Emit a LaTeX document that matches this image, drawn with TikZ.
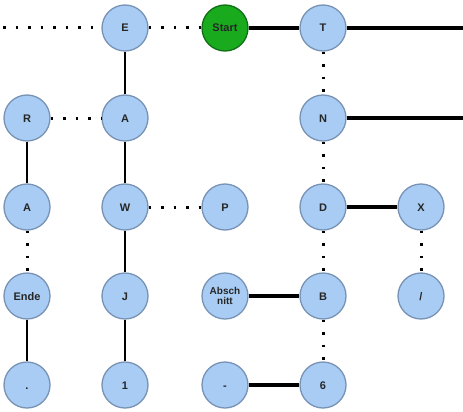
\documentclass[tikz,border=0pt]{standalone}
\usepackage{fontspec}
\setmainfont{Liberation Sans}
\definecolor{knotfill}{RGB}{168,204,244}
\definecolor{knotrim}{RGB}{120,146,180}
\definecolor{startfill}{RGB}{26,170,30}
\definecolor{startrim}{RGB}{18,110,22}
\begin{document}
\begin{tikzpicture}[x=1pt,y=-1pt,
    knot/.style={circle,draw=knotrim,fill=knotfill,line width=1.3pt,
      minimum size=46pt,inner sep=0pt,text height=8pt,text depth=0pt,
      font=\bfseries\fontsize{11}{11}\selectfont,text=black!85},
    start/.style={knot,fill=startfill,draw=startrim},
    dit/.style={line width=3pt,dash pattern=on 2.5pt off 10pt},
    dah/.style={line width=2pt},
    wide/.style={line width=3.5pt}]
  \useasboundingbox (0,0) rectangle (463,412);
  \coordinate (lend) at (3,28);
  \coordinate (rend1) at (463,28);
  \coordinate (rend2) at (463,118);
  \node[knot] (E) at (125,28) {E};
  \node[start] (Start) at (225,28) {Start};
  \node[knot] (T) at (323,28) {T};
  \node[knot] (R) at (27,118) {R};
  \node[knot] (A1) at (125,118) {A};
  \node[knot] (N) at (323,118) {N};
  \node[knot] (A2) at (27,207) {A};
  \node[knot] (W) at (125,207) {W};
  \node[knot] (P) at (225,207) {P};
  \node[knot] (D) at (323,207) {D};
  \node[knot] (X) at (421,207) {X};
  \node[knot] (Ende) at (27,296) {Ende};
  \node[knot] (J) at (125,296) {J};
  \node[knot,align=center,text height=,text depth=,
    font=\bfseries\fontsize{10}{10}\selectfont] (Abschnitt) at (225,296) {Absch\\nitt};
  \node[knot] (B) at (323,296) {B};
  \node[knot] (slash) at (421,296) {/};
  \node[knot] (dot) at (27,385) {.};
  \node[knot] (one) at (125,385) {1};
  \node[knot] (minus) at (225,385) {-};
  \node[knot] (six) at (323,385) {6};
  \begin{scope}[-]
    \draw[dit] (lend) to (E);
    \draw[dit] (E) to (Start);
    \draw[wide] (Start) to (T);
    \draw[wide] (T) to (rend1);
    \draw[dit] (T) to (N);
    \draw[wide] (N) to (rend2);
    \draw[dah] (E) to (A1);
    \draw[dit] (R) to (A1);
    \draw[dah] (R) to (A2);
    \draw[dit] (A2) to (Ende);
    \draw[dah] (Ende) to (dot);
    \draw[dah] (A1) to (W);
    \draw[dit] (W) to (P);
    \draw[dah] (W) to (J);
    \draw[dah] (J) to (one);
    \draw[dit] (N) to (D);
    \draw[wide] (D) to (X);
    \draw[dit] (X) to (slash);
    \draw[dit] (D) to (B);
    \draw[wide] (Abschnitt) to (B);
    \draw[dit] (B) to (six);
    \draw[wide] (minus) to (six);
  \end{scope}
\end{tikzpicture}
\end{document}
